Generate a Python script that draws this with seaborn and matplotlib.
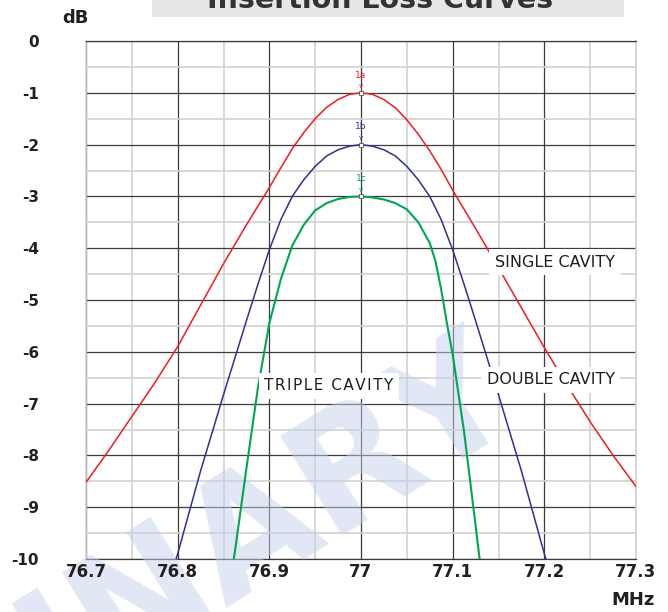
import numpy as np
import pandas as pd
import seaborn as sns
import matplotlib.pyplot as plt
from matplotlib.patches import Rectangle
from matplotlib.ticker import MultipleLocator, FixedLocator, FixedFormatter, NullFormatter

# Curvas (MHz, dB)
freq_single = [76.7, 76.725, 76.75, 76.775, 76.8, 76.825, 76.85, 76.875, 76.9,
               76.9125, 76.925, 76.9375, 76.95, 76.9625, 76.975, 76.9875, 77.0,
               77.0125, 77.025, 77.0375, 77.05, 77.0625, 77.075, 77.0875, 77.1,
               77.125, 77.15, 77.175, 77.2, 77.225, 77.25, 77.275, 77.3]
db_single = [-8.52, -7.9, -7.25, -6.6, -5.9, -5.1, -4.3, -3.55, -2.83,
             -2.45, -2.08, -1.77, -1.5, -1.28, -1.13, -1.03, -1.0,
             -1.03, -1.13, -1.29, -1.52, -1.8, -2.12, -2.48, -2.88,
             -3.62, -4.38, -5.15, -5.92, -6.65, -7.35, -8.0, -8.6]

freq_double = [76.775, 76.8, 76.825, 76.85, 76.875, 76.8875, 76.9, 76.9125,
               76.925, 76.9375, 76.95, 76.9625, 76.975, 76.9875, 77.0,
               77.0125, 77.025, 77.0375, 77.05, 77.0625, 77.075, 77.0875,
               77.1, 77.1125, 77.125, 77.15, 77.175, 77.2, 77.225]
db_double = [-11.4, -9.9, -8.3, -6.83, -5.4, -4.7, -4.03, -3.45,
             -3.0, -2.68, -2.42, -2.22, -2.1, -2.03, -2.0,
             -2.03, -2.1, -2.22, -2.42, -2.68, -3.0, -3.45,
             -4.03, -4.7, -5.4, -6.83, -8.3, -9.9, -11.4]

freq_triple = [76.85, 76.8625, 76.875, 76.8875, 76.9, 76.9125, 76.925, 76.9375,
               76.95, 76.9625, 76.975, 76.9875, 77.0,
               77.0125, 77.025, 77.0375, 77.05, 77.0625, 77.06875, 77.075,
               77.08125, 77.0875, 77.09375, 77.1, 77.1125, 77.125, 77.1375]
db_triple = [-11.3, -9.85, -8.25, -6.7, -5.45, -4.6, -3.95, -3.55,
             -3.27, -3.13, -3.05, -3.01, -3.0,
             -3.02, -3.06, -3.13, -3.25, -3.5, -3.7, -3.9,
             -4.25, -4.8, -5.45, -6.05, -7.55, -9.35, -11.2]

x_ticks = [76.7, 76.8, 76.9, 77.0, 77.1, 77.2, 77.3]
x_labels = ['76.7', '76.8', '76.9', '77', '77.1', '77.2', '77.3']
y_ticks = [0, -1, -2, -3, -4, -5, -6, -7, -8, -9, -10]
y_labels = ['0', '-1', '-2', '-3', '-4', '-5', '-6', '-7', '-8', '-9', '-10']

series = [
    ('SINGLE CAVITY', freq_single, db_single, '#ed1c24', '1a', 1.1),
    ('DOUBLE CAVITY', freq_double, db_double, '#2e3192', '1b', 1.1),
    ('TRIPLE CAVITY', freq_triple, db_triple, '#00a651', '1c', 1.5),
]

sns.set_style('white')
plt.rcParams['font.family'] = ['DejaVu Sans']

fig = plt.figure(figsize=(6.68, 6.12), dpi=100)
rect = [86 / 668, 53 / 612, 550 / 668, 518 / 612]

# eixo de fundo: so a grelha
ax_bg = fig.add_axes(rect, zorder=0)
# eixo da frente: curvas, textos e rotulos
ax = fig.add_axes(rect, zorder=2)
ax.patch.set_visible(False)

for a in (ax_bg, ax):
    a.set_xlim(76.7, 77.3)
    a.set_ylim(-10, 0)
    a.xaxis.set_major_locator(FixedLocator(x_ticks))
    a.yaxis.set_major_locator(FixedLocator(y_ticks))
    a.xaxis.set_minor_locator(MultipleLocator(0.05))
    a.yaxis.set_minor_locator(MultipleLocator(0.5))
    a.tick_params(which='both', length=0)

ax_bg.xaxis.set_major_formatter(NullFormatter())
ax_bg.yaxis.set_major_formatter(NullFormatter())
ax_bg.grid(which='minor', color='#d2d2d2', lw=1.2)
ax_bg.grid(which='major', color='#3c3c3c', lw=0.9)
for s in ['top', 'bottom']:
    ax_bg.spines[s].set_color('#3c3c3c')
    ax_bg.spines[s].set_linewidth(0.9)
for s in ['left', 'right']:
    ax_bg.spines[s].set_color('#d2d2d2')
    ax_bg.spines[s].set_linewidth(1.2)

# marca d'agua entre a grelha e as curvas
fig.text(523 / 668, 1 - 412 / 612, 'PRELIMINARY', rotation=32, rotation_mode='anchor',
         ha='right', va='baseline', fontsize=115, fontweight='bold',
         color='#c4d0ea', alpha=0.5, zorder=1)

for name, f, db, color, tag, lw in series:
    df = pd.DataFrame({'freq': f, 'db': db})
    sns.lineplot(data=df, x='freq', y='db', color=color, lw=lw, ax=ax,
                 zorder=3, sort=False)
    i = int(np.argmax(db))
    sns.scatterplot(x=[f[i]], y=[db[i]], marker='s', s=8, color='white',
                    edgecolor='#555555', linewidth=0.6, ax=ax, zorder=4)
    ax.annotate(tag, xy=(f[i], db[i]), xytext=(0, 9.5), textcoords='offset points',
                ha='center', va='bottom', fontsize=6.5, color=color, zorder=4)
    ax.annotate('v', xy=(f[i], db[i]), xytext=(0, 2.5), textcoords='offset points',
                ha='center', va='bottom', fontsize=5, color=color, zorder=4)

# etiquetas das curvas
box = dict(facecolor='white', edgecolor='none', pad=4)
ax.text(77.2116, -4.27, 'SINGLE CAVITY', ha='center', va='center',
        fontsize=11.5, color='#1e1e1e', bbox=box, zorder=5)
ax.text(77.207, -6.54, 'DOUBLE CAVITY', ha='center', va='center',
        fontsize=11.5, color='#1e1e1e', bbox=box, zorder=5)
ax.text(76.965, -6.66, '\u200a'.join('TRIPLE') + ' \u2009' + '\u200a'.join('CAVITY'),
        ha='center', va='center', fontsize=11, color='#1e1e1e', bbox=box, zorder=5)

ax.xaxis.set_major_formatter(FixedFormatter(x_labels))
ax.yaxis.set_major_formatter(FixedFormatter(y_labels))
ax.tick_params(axis='y', pad=34, labelsize=11, labelcolor='#231f20')
ax.tick_params(axis='x', pad=3, labelsize=12, labelcolor='#231f20')
for lab in ax.get_xticklabels() + ax.get_yticklabels():
    lab.set_fontweight('bold')
ax.set_xlabel('')
ax.set_ylabel('')
for s in ax.spines.values():
    s.set_visible(False)

# titulo cortado no topo
fig.patches.append(Rectangle((152 / 668, 1 - 17 / 612), 472 / 668, 17 / 612,
                             transform=fig.transFigure, facecolor='#e6e7e8',
                             edgecolor='none', zorder=0))
fig.text(380 / 668, 1 - 8 / 612, 'Insertion Loss Curves', ha='center', va='baseline',
         fontsize=20.5, fontweight='bold', color='#333333', zorder=3)

fig.text(62 / 668, 1 - 18 / 612, 'dB', ha='left', va='center', fontsize=13,
         fontweight='bold', color='#231f20', zorder=3)
fig.text(655 / 668, 1 - 600 / 612, 'MHz', ha='right', va='center', fontsize=13,
         fontweight='bold', color='#231f20', zorder=3)

fig.savefig('out.png', dpi=100)
